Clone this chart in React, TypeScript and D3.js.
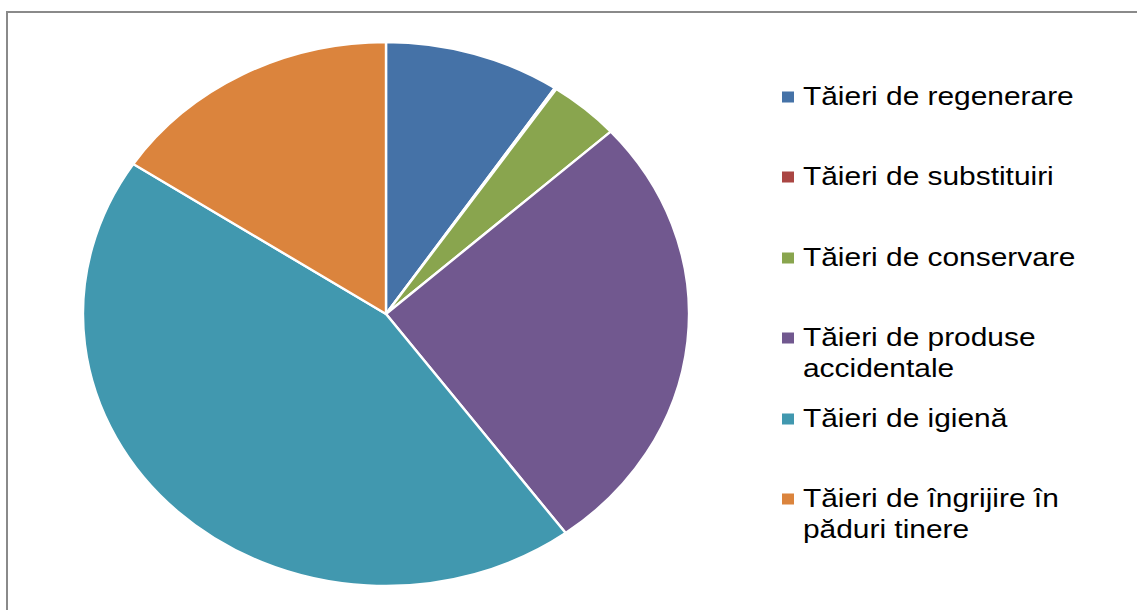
import React from "react";
import * as d3 from "d3";

const categories = [
  "Tăieri de regenerare",
  "Tăieri de substituiri",
  "Tăieri de conservare",
  "Tăieri de produse accidentale",
  "Tăieri de igienă",
  "Tăieri de îngrijire în păduri tinere",
];
const legendLines = [
  ["Tăieri de regenerare"],
  ["Tăieri de substituiri"],
  ["Tăieri de conservare"],
  ["Tăieri de produse", "accidentale"],
  ["Tăieri de igienă"],
  ["Tăieri de îngrijire în", "păduri tinere"],
];
const values = [9.4, 0.1, 3.8, 26.6, 44.4, 15.7];
const colors = ["#4572A7", "#AA4643", "#89A54E", "#71588F", "#4198AF", "#DB843D"];

const W = 1137;
const H = 610;
const cx = 386;
const cy = 314;
const ry = 272;
const sx = 1.114;
const tsx = 1.15;

export default function App() {
  const pie = d3.pie<number>().sort(null).value((d) => d)(values);
  const arc = d3.arc<d3.PieArcDatum<number>>().innerRadius(0).outerRadius(ry);
  const legendY = [97, 177, 258, 338, 419, 499];
  const lineGap = 31;
  return (
    <svg
      width={W}
      height={H}
      style={{ position: "absolute", left: 0, top: 0, background: "#fff" }}
    >
      <rect x={7} y={12} width={W} height={H} fill="#fff" stroke="#8a8a8a" strokeWidth={2} />
      <g transform={`translate(${cx},${cy}) scale(${sx},1)`}>
        {pie.map((p, i) => (
          <path
            key={categories[i]}
            d={arc(p) || ""}
            fill={colors[i]}
            stroke="#fff"
            strokeWidth={2.4}
            vectorEffect="non-scaling-stroke"
          />
        ))}
      </g>
      {categories.map((c, i) => (
        <g key={c}>
          <rect x={782} y={legendY[i] - 5.5} width={12} height={11} fill={colors[i]} />
          <g transform={`scale(${tsx},1)`}>
            {legendLines[i].map((t, j) => (
              <text
                key={t}
                x={803 / tsx}
                y={legendY[i] + 8 + j * lineGap}
                fontFamily="'Liberation Sans', Arial, sans-serif"
                fontSize={26}
                fill="#000"
              >
                {t}
              </text>
            ))}
          </g>
        </g>
      ))}
    </svg>
  );
}
